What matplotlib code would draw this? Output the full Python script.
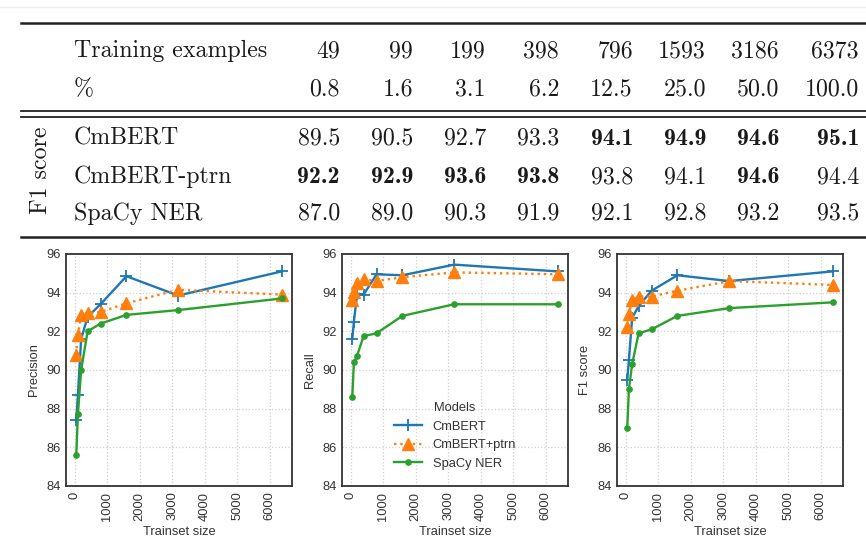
import matplotlib
matplotlib.use("Agg")
import matplotlib.pyplot as plt
from matplotlib.lines import Line2D

# Data
train_sizes = [49, 99, 199, 398, 796, 1593, 3186, 6373]
percents = ["0.8", "1.6", "3.1", "6.2", "12.5", "25.0", "50.0", "100.0"]
models = ["CmBERT", "CmBERT+ptrn", "SpaCy NER"]
table_names = ["CmBERT", "CmBERT-ptrn", "SpaCy NER"]

precision_cmbert = [87.4, 88.7, 91.6, 92.75, 93.4, 94.85, 93.85, 95.1]
precision_ptrn = [90.8, 91.8, 92.85, 92.95, 93.0, 93.45, 94.15, 93.9]
precision_spacy = [85.6, 87.7, 90.0, 92.0, 92.4, 92.85, 93.1, 93.7]

recall_cmbert = [91.6, 92.5, 93.95, 93.9, 94.95, 94.9, 95.45, 95.1]
recall_ptrn = [93.6, 94.05, 94.5, 94.7, 94.6, 94.8, 95.05, 94.95]
recall_spacy = [88.6, 90.4, 90.75, 91.75, 91.9, 92.8, 93.4, 93.4]

f1_cmbert = [89.5, 90.5, 92.7, 93.3, 94.1, 94.9, 94.6, 95.1]
f1_ptrn = [92.2, 92.9, 93.6, 93.8, 93.8, 94.1, 94.6, 94.4]
f1_spacy = [87.0, 89.0, 90.3, 91.9, 92.1, 92.8, 93.2, 93.5]

# which table cells are bold
bold_cmbert = [False, False, False, False, True, True, True, True]
bold_ptrn = [True, True, True, True, False, False, True, False]
bold_spacy = [False] * 8

W, H = 866, 552
fig = plt.figure(figsize=(W / 100, H / 100), dpi=100)


def fx(px):
    return px / W


def fy(py):
    return 1 - py / H


def hline(y, lw, x0=21, x1=866, color="#222222"):
    fig.add_artist(Line2D([fx(x0), fx(x1)], [fy(y), fy(y)], lw=lw, color=color,
                          transform=fig.transFigure))


# ---- table ----
hline(7, 1.0, x0=0, color="#eeeeee")
hline(23, 1.8)
hline(111, 1.3)
hline(117, 1.3)
hline(237, 1.8)

fs = 17.2
tcol = "#1a1a1a"
col_right = [340, 413, 486, 559, 633, 706, 779, 859]
fig.text(fx(74), fy(57), "Training examples", family="cmr10", fontsize=fs,
         va="baseline", color=tcol)
fig.text(fx(74), fy(95), "%", family="cmr10", fontsize=fs, va="baseline", color=tcol)
for i, x in enumerate(col_right):
    fig.text(fx(x), fy(57), str(train_sizes[i]), family="cmr10", fontsize=fs,
             ha="right", va="baseline", color=tcol)
    fig.text(fx(x), fy(95), percents[i], family="cmr10", fontsize=fs,
             ha="right", va="baseline", color=tcol)

fig.text(fx(41), fy(170), "F1 score", family="cmr10", fontsize=fs, rotation=90,
         ha="center", va="center", color=tcol)

rows = [(f1_cmbert, bold_cmbert), (f1_ptrn, bold_ptrn), (f1_spacy, bold_spacy)]
row_base = [145, 183, 220]
for (vals, bolds), name, yb in zip(rows, table_names, row_base):
    fig.text(fx(74), fy(yb), name, family="cmr10", fontsize=fs, va="baseline", color=tcol)
    for i, x in enumerate(col_right):
        fam = "cmb10" if bolds[i] else "cmr10"
        fig.text(fx(x), fy(yb), f"{vals[i]:.1f}", family=fam, fontsize=fs,
                 ha="right", va="baseline", color=tcol)

# ---- plots ----
panels = [
    ("Precision", precision_cmbert, precision_ptrn, precision_spacy, 66),
    ("Recall", recall_cmbert, recall_ptrn, recall_spacy, 342),
    ("F1 score", f1_cmbert, f1_ptrn, f1_spacy, 617),
]
c_blue, c_orange, c_green = "#1f77b4", "#ff7f0e", "#2ca02c"
txt_color = "#333333"
sans = "Liberation Sans"

for label, cm, pt, sp, left in panels:
    ax = fig.add_axes([fx(left), fy(486), 226 / W, 232 / H])
    ax.plot(train_sizes, cm, color=c_blue, marker="+", ms=9, mew=1.3, lw=1.7,
            label=models[0])
    ax.plot(train_sizes, pt, color=c_orange, marker="^", ms=8, lw=1.7, ls=":",
            label=models[1])
    ax.plot(train_sizes, sp, color=c_green, marker="o", ms=3.8, lw=1.7,
            label=models[2])
    ax.set_ylim(84, 96)
    ax.set_yticks([84, 86, 88, 90, 92, 94, 96])
    ax.set_xticks([0, 1000, 2000, 3000, 4000, 5000, 6000])
    ax.grid(True, color="#d0d0d0", ls=":", lw=0.9)
    ax.set_axisbelow(True)
    for s in ax.spines.values():
        s.set_color("#333333")
        s.set_linewidth(1.3)
    ax.tick_params(length=0, labelsize=9.3, labelcolor=txt_color, pad=4)
    plt.setp(ax.get_xticklabels(), rotation=90, family=sans)
    plt.setp(ax.get_yticklabels(), family=sans)
    ax.set_xlabel("Trainset size", fontsize=9.3, color=txt_color, family=sans)
    ax.set_ylabel(label, fontsize=9.3, color=txt_color, family=sans)
    if label == "Recall":
        leg = ax.legend(title="Models", loc="lower center", bbox_to_anchor=(0.5, 0.02),
                        frameon=False, prop={"family": sans, "size": 9.3},
                        title_fontproperties={"family": sans, "size": 9.3},
                        handlelength=2.2, labelspacing=0.5)
        for t in leg.get_texts():
            t.set_color(txt_color)
        leg.get_title().set_color(txt_color)

fig.savefig("out.png", dpi=100)
